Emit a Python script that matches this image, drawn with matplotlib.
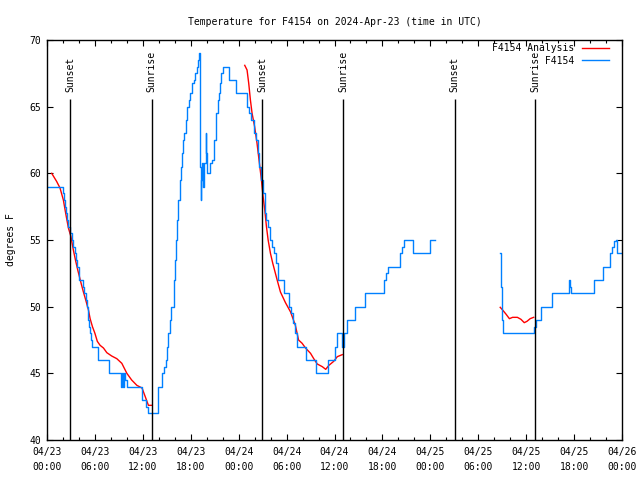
import matplotlib
matplotlib.use("Agg")
import matplotlib.pyplot as plt
import matplotlib.dates as mdates
import numpy as np
import pandas as pd

nan = np.nan

# observation series (hours since 2024-04-23 00:00 UTC, deg F)
obs_hours = [0.16, 1.95, 2.1, 2.26, 2.4, 2.5, 2.65, 2.85, 3.1, 3.3, 3.45, 3.6, 3.8, 3.95, 4.06,
             4.45, 4.6, 4.85, 5.0, 5.1, 5.25, 5.4, 5.55, 5.69, 6.35, 7.8, 9.3, 9.4, 9.5, 9.58,
             9.8, 10.05, 11.9, 12.45, 12.7, 13.9, 14.45, 14.7, 14.85, 15.0, 15.2, 15.35, 15.5,
             15.85, 15.95, 16.05, 16.15, 16.3, 16.45, 16.6, 16.75, 16.9, 17.05, 17.15, 17.35,
             17.5, 17.75, 17.95, 18.15, 18.35, 18.55, 18.75, 18.95, 19.05, 19.15, 19.25, 19.32,
             19.4, 19.55, 19.65, 19.85, 19.95, 20.0, 20.35, 20.6, 20.95, 21.1, 21.2, 21.35, 21.5,
             21.65, 21.85, 22.05, 22.75, 23.7, 25.05, 25.3, 25.55, 25.9, 26.2, 26.45, 26.6, 26.85,
             27.05, 27.25, 27.4, 27.65, 27.9, 28.15, 28.4, 28.65, 28.9, 29.65, 30.3, 30.55, 30.75,
             31.0, 31.35, 32.37, 33.7, 35.2, 36.1, 36.35, 36.95, 37.2, 37.6, 38.6, 39.85, 42.2,
             42.45, 42.7, 44.15, 44.5, 44.7, 45.85, 47.95, 48.55, 48.6,
             56.75, 56.85, 56.95, 57.1, 61.0, 61.2, 61.9, 63.2, 65.42, 65.5, 65.6, 68.45, 69.65,
             70.55, 70.8, 71.0, 71.25, 71.4, 71.95]
obs_temps = [59, 58.5, 58, 57.5, 57, 56.5, 56, 55.5, 55, 54.5, 54, 53.5, 53, 52.5, 52,
             51.5, 51, 50.5, 50, 49, 48.5, 48, 47.5, 47, 46, 45, 44, 45, 44, 45,
             44.5, 44, 43, 42.5, 42, 44, 45, 45.5, 46, 47, 48, 49, 50,
             51, 52, 53.5, 55, 56.5, 58, 59.5, 60.5, 61.5, 62.5, 63, 64,
             65, 65.5, 66, 66.75, 67, 67.5, 68, 68.5, 69, 60.5, 58, 59.5,
             60.75, 59, 60.75, 63, 61.5, 60, 60.75, 61, 62.5, 63.5, 64.5, 65.5, 66,
             66.75, 67.5, 68, 67, 66, 65, 64.5, 64, 63, 62.5, 61.5, 60.5, 59.5,
             58.5, 57, 56.5, 56, 55, 54.5, 54, 53.25, 52, 51, 50, 49.5, 48.75,
             48, 47, 46, 45, 46, 47, 48, 47, 48, 49, 50, 51, 52,
             52.5, 53, 54, 54.5, 55, 54, 55, 55, nan,
             54, 51.5, 49, 48, 48.5, 49, 50, 51, 52, 51.5, 51, 52, 53,
             54, 54.5, 54.9, 55, 54, 54]

# analysis series
ana_hours = [0.59, 1.2, 1.63, 2.05, 2.34, 2.68, 3.0, 3.3, 3.6, 3.85, 4.27, 4.56, 4.85, 5.19, 5.4,
             5.69, 6.0, 6.3, 6.65, 7.07, 7.49, 8.1, 8.74, 9.37, 10.0, 10.6, 11.25, 11.9, 12.3,
             12.7, 13.1, 18.0,
             24.76, 25.05, 25.26, 25.47, 25.68, 26.0, 26.3, 26.6, 26.85, 27.06, 27.27, 27.48,
             27.69, 27.98, 28.27, 28.6, 28.82, 29.23, 29.86, 30.5, 31.1, 31.5, 31.95, 32.37, 33.0,
             33.4, 33.84, 34.47, 34.9, 35.3, 35.9, 36.35, 36.97, 45.0,
             56.75, 57.05, 57.46, 57.9, 58.3, 58.9, 59.35, 59.76, 60.1, 60.5, 60.94]
ana_temps = [60, 59.4, 58.9, 58, 57, 55.9, 55.25, 54.25, 53.4, 52.75, 51.75, 51.1, 50.5, 49.75, 49.1,
             48.5, 48, 47.4, 47.1, 46.9, 46.55, 46.3, 46.1, 45.75, 45, 44.5, 44.1, 43.9, 43.25,
             42.6, 42.6, nan,
             68.1, 67.75, 66.75, 65.5, 64.5, 63.5, 62.25, 60.75, 59.5, 58.25, 57.25, 56,
             55, 54, 53.25, 52.5, 52, 51.1, 50.3, 49.6, 48.6, 47.5, 47.25, 46.9, 46.5,
             46.1, 45.7, 45.5, 45.3, 45.6, 45.9, 46.25, 46.4, nan,
             49.95, 49.75, 49.45, 49.1, 49.2, 49.2, 49.05, 48.8, 48.9, 49.1, 49.2]

event_hours = [2.9, 13.1, 26.95, 37.05, 51.05, 61.1]
event_labels = ["Sunset", "Sunrise", "Sunset", "Sunrise", "Sunset", "Sunrise"]

title = "Temperature for F4154 on 2024-Apr-23 (time in UTC)"
ylabel = "degrees F"
series_names = ["F4154 Analysis", "F4154"]

base = pd.Timestamp("2024-04-23 00:00")
def to_time(h):
    return base + pd.to_timedelta(np.asarray(h, dtype=float), unit="h")

FONT = "DejaVu Sans Mono"
FS = 7
plt.rcParams["font.family"] = FONT
plt.rcParams["font.size"] = FS

fig = plt.figure(figsize=(6.4, 4.8), dpi=100)
ax = fig.add_axes([47/640, 40/480, 575/640, 400/480])

ax.plot(to_time(ana_hours), ana_temps, color="#ff0000", lw=1.0, label=series_names[0])
ax.plot(to_time(obs_hours), obs_temps, color="#0080ff", lw=1.0, drawstyle="steps-post",
        label=" " * (len(series_names[0]) - len(series_names[1])) + series_names[1])

ev_t = to_time(event_hours)
ax.vlines(ev_t, 40, 65.6, color="black", lw=1.0)
for t, lab in zip(ev_t, event_labels):
    ax.text(t, 66.1, lab, rotation=90, ha="center", va="bottom", fontsize=FS)

ax.set_ylim(40, 70)
ax.set_xlim(base, base + pd.Timedelta(hours=72))
ax.set_yticks(np.arange(40, 71, 5))
ax.xaxis.set_major_locator(mdates.HourLocator(byhour=[0, 6, 12, 18]))
ax.xaxis.set_minor_locator(mdates.HourLocator(byhour=range(0, 24, 2)))
ax.xaxis.set_major_formatter(mdates.DateFormatter("%m/%d\n%H:%M"))
ax.tick_params(axis="both", which="major", direction="in", length=4.5, width=0.8,
               top=True, right=True, labelsize=FS, pad=4)
ax.tick_params(axis="x", which="major", pad=5)
ax.tick_params(axis="x", which="minor", direction="in", length=2.2, width=0.8, top=True)
for lab in ax.get_xticklabels():
    lab.set_linespacing(1.6)
for s in ax.spines.values():
    s.set_linewidth(1.0)

ax.set_title(title, fontsize=FS, pad=11)
ax.set_ylabel(ylabel, fontsize=FS, labelpad=10)

ax.legend(loc="upper right", bbox_to_anchor=(0.977, 0.992), borderaxespad=0, frameon=False,
          markerfirst=False, handlelength=2.8, handletextpad=0.7, labelspacing=0.25,
          borderpad=0, fontsize=FS)

fig.savefig("out.png", dpi=100, facecolor="white")
